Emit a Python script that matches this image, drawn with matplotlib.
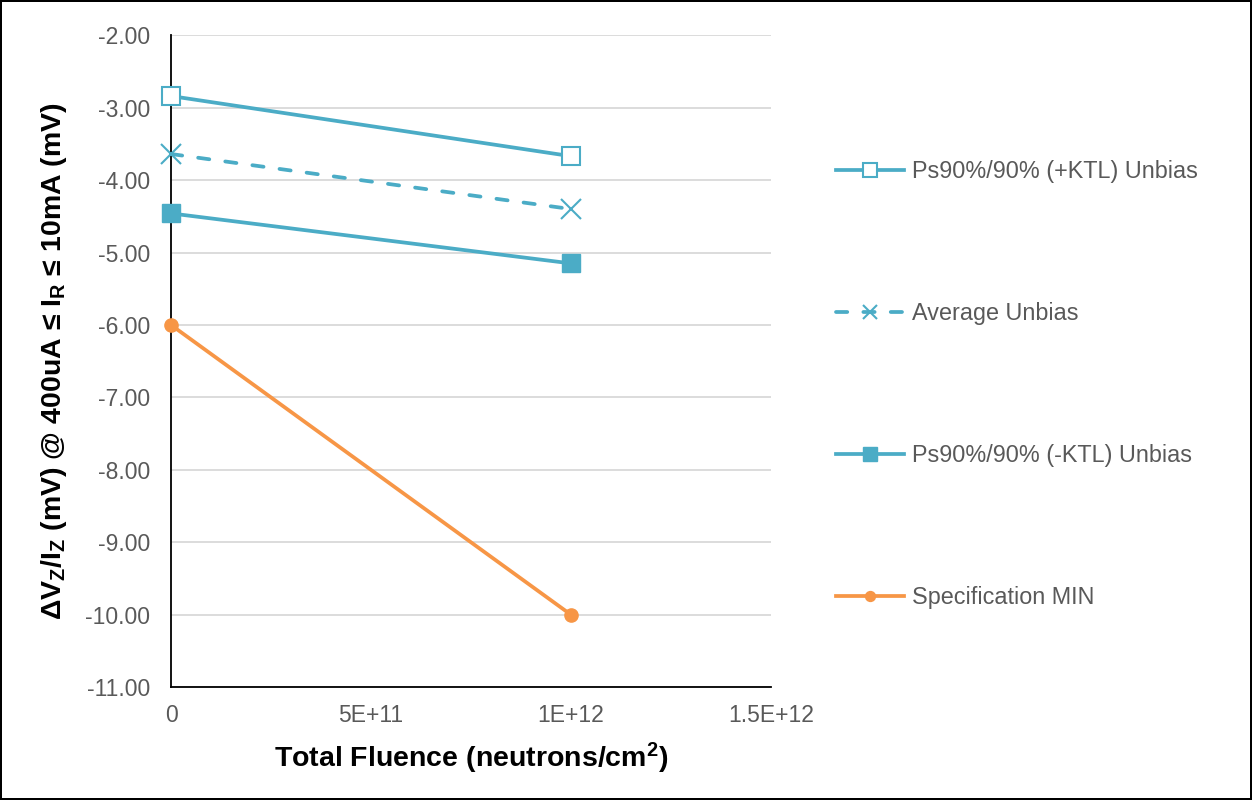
import matplotlib

matplotlib.use("Agg")

import matplotlib.pyplot as plt

# fluence points (neutrons/cm^2)
fluence = [0, 1e12]

series_names = [
    "Ps90%/90% (+KTL) Unbias",
    "Average Unbias",
    "Ps90%/90% (-KTL) Unbias",
    "Specification MIN",
]
plus_ktl = [-2.84, -3.67]
average = [-3.64, -4.40]
minus_ktl = [-4.46, -5.15]
spec_min = [-6.00, -10.00]

x_ticks = [0, 5e11, 1e12, 1.5e12]
x_tick_labels = ["0", "5E+11", "1E+12", "1.5E+12"]
y_ticks = [-2, -3, -4, -5, -6, -7, -8, -9, -10, -11]

TEAL = "#4BACC6"
ORANGE = "#F79646"
GRAY = "#595959"

plt.rcParams["font.family"] = ["Liberation Sans", "DejaVu Sans"]
plt.rcParams["mathtext.fontset"] = "custom"
plt.rcParams["mathtext.rm"] = "Liberation Sans:bold"
plt.rcParams["mathtext.it"] = "Liberation Sans:bold"
plt.rcParams["mathtext.bf"] = "Liberation Sans:bold"


def main():
    fig = plt.figure(figsize=(12.52, 8), dpi=100)
    fig.patch.set_edgecolor("black")
    fig.patch.set_linewidth(1.5)
    ax = fig.add_axes([0.1366, 0.141, 0.4792, 0.815])

    common = dict(lw=2.7, clip_on=False, zorder=3)
    ax.plot(fluence, plus_ktl, color=TEAL, marker="s", ms=13,
            mfc="white", mec=TEAL, mew=1.5, label=series_names[0], **common)
    ax.plot(fluence, average, color=TEAL, ls=(0, (3.0, 4.3)),
            dash_capstyle="round", marker="x", ms=14, mew=1.5,
            label=series_names[1], **common)
    ax.plot(fluence, minus_ktl, color=TEAL, marker="s", ms=13,
            mfc=TEAL, mec=TEAL, label=series_names[2], **common)
    ax.plot(fluence, spec_min, color=ORANGE, marker="o", ms=9.5,
            mfc=ORANGE, mec=ORANGE, label=series_names[3], **common)

    ax.set_xlim(0, 1.5e12)
    ax.set_ylim(-11, -2)
    ax.set_xticks(x_ticks)
    ax.set_xticklabels(x_tick_labels)
    ax.set_yticks(y_ticks)
    ax.set_yticklabels([f"{v:.2f}" for v in y_ticks])
    ax.tick_params(length=0, labelsize=16.5, colors=GRAY)
    ax.tick_params(axis="y", pad=15)
    ax.tick_params(axis="x", pad=12)

    ax.grid(axis="y", color="#D9D9D9", lw=1.3)
    ax.set_axisbelow(True)
    for side in ("top", "right"):
        ax.spines[side].set_visible(False)
    for side in ("left", "bottom"):
        ax.spines[side].set_color("black")
        ax.spines[side].set_linewidth(1.3)

    ax.set_xlabel("Total Fluence (neutrons/cm$^{2}$)", fontsize=20.5,
                  fontweight="bold", labelpad=10)
    ax.set_ylabel("ΔV$_{Z}$/I$_{Z}$ (mV) @ 400uA ≤ I$_{R}$ ≤ 10mA (mV)",
                  fontsize=20.5, fontweight="bold", labelpad=12)

    leg = fig.legend(loc="center left", bbox_to_anchor=(0.651, 0.519),
                     frameon=False, fontsize=16.8, numpoints=1,
                     handlelength=2.9, handletextpad=0.35, labelspacing=5.1,
                     markerscale=0.75)
    for text in leg.get_texts():
        text.set_color(GRAY)

    fig.savefig("out.png", dpi=100)


if __name__ == "__main__":
    main()
